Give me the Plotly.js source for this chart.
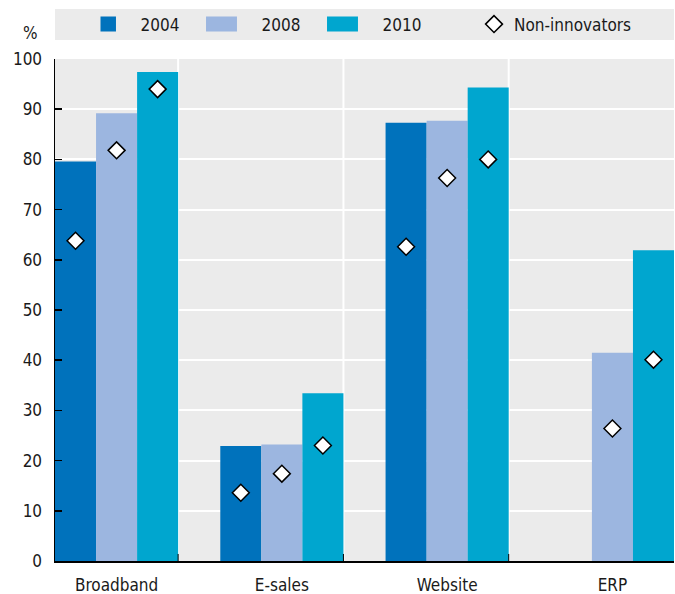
<!DOCTYPE html>
<html>
<head>
<meta charset="utf-8">
<script src="https://cdn.plot.ly/plotly-3.0.1.min.js"></script>
<style>
html,body{margin:0;padding:0;background:#fff;}
#chart{width:675px;height:594px;}
#chart g.legend .legendpoints path{transform:scale(2.58,1.25);}
</style>
</head>
<body>
<div id="chart"></div>
<script>
var categories = ["Broadband", "E-sales", "Website", "ERP"];
var years = ["2004", "2008", "2010"];
var values2004 = [79.6, 22.9, 87.3, null];
var values2008 = [89.2, 23.2, 87.7, 41.5];
var values2010 = [97.4, 33.4, 94.3, 61.9];
var nonInnov2004 = [63.8, 13.6, 62.6, null];
var nonInnov2008 = [81.8, 17.4, 76.3, 26.4];
var nonInnov2010 = [94.0, 23.0, 80.0, 40.1];
var yTicks = [0, 10, 20, 30, 40, 50, 60, 70, 80, 90, 100];

var colors = ["#0072bc", "#9cb6e0", "#00a6cf"];
var barSeries = [values2004, values2008, values2010];
var markerSeries = [nonInnov2004, nonInnov2008, nonInnov2010];
var FONT = "'Liberation Sans Narrow', 'DejaVu Sans Condensed', 'Roboto Condensed', 'Arial Narrow', 'Liberation Sans', sans-serif";
var TXT = "#1a1a1a";

var traces = [];
years.forEach(function (yr, i) {
  traces.push({
    type: "bar", x: categories, y: barSeries[i], name: yr,
    marker: {color: colors[i], line: {width: 0}},
    offsetgroup: yr, legend: "legend"
  });
});
years.forEach(function (yr, i) {
  traces.push({
    type: "scatter", mode: "markers", x: categories, y: markerSeries[i],
    name: "Non-innovators", legendgroup: "ni", showlegend: i === 0,
    offsetgroup: yr, legend: "legend2",
    marker: {symbol: "diamond", size: 13, color: "#ffffff", line: {color: "#000000", width: 1.5}},
    cliponaxis: false
  });
});

var gap = 0.255;
var half = (1 - gap) / 2;
var shapes = [
  {type: "rect", xref: "paper", yref: "paper", x0: 0, x1: 1, y0: 1.0378, y1: 1.0995,
   fillcolor: "#ebebeb", line: {width: 0}, layer: "below"}
];
for (var k = 0; k < categories.length - 1; k++) {
  shapes.push({type: "line", xref: "x", yref: "paper", x0: k + half, x1: k + half, y0: 0, y1: 1,
    line: {color: "#ffffff", width: 2}, layer: "below"});
  shapes.push({type: "line", xref: "x", yref: "paper", x0: k + half, x1: k + half, y0: 0, y1: 0.014,
    line: {color: "#000000", width: 1}, layer: "above"});
}

var legendFont = {family: FONT, size: 17, color: TXT};
var layout = {
  width: 675, height: 594,
  margin: {l: 55, r: 1, t: 59, b: 33, pad: 0},
  paper_bgcolor: "#ffffff", plot_bgcolor: "#ebebeb",
  font: {family: FONT, size: 17, color: TXT},
  barmode: "group", bargap: gap, bargroupgap: 0,
  scattermode: "group", scattergap: gap,
  showlegend: true,
  legend: {orientation: "h", x: 0.0735, xanchor: "left", y: 1.0686, yanchor: "middle",
    bgcolor: "rgba(0,0,0,0)", font: legendFont, entrywidth: 76, traceorder: "normal"},
  legend2: {orientation: "h", x: 0.6769, xanchor: "left", y: 1.0686, yanchor: "middle",
    bgcolor: "rgba(0,0,0,0)", font: legendFont},
  xaxis: {type: "category", range: [-(half), categories.length - 1 + half],
    showgrid: false, zeroline: false, showline: true, linecolor: "#000000", linewidth: 1.5,
    ticks: "", ticklabelstandoff: 8, fixedrange: true},
  yaxis: {range: [0, 100], tickvals: yTicks, ticktext: yTicks.map(String),
    showgrid: true, gridcolor: "#ffffff", gridwidth: 2, zeroline: false,
    showline: true, linecolor: "#000000", linewidth: 1.5,
    ticks: "inside", ticklen: 7, tickcolor: "#000000", tickwidth: 1.5,
    ticklabelstandoff: 8, fixedrange: true},
  shapes: shapes,
  annotations: [{text: "%", xref: "paper", yref: "paper", x: -0.039, y: 1.052,
    showarrow: false, xanchor: "center", yanchor: "middle", font: {family: FONT, size: 17, color: TXT}}]
};

Plotly.newPlot("chart", traces, layout, {displayModeBar: false, staticPlot: true});
</script>
</body>
</html>
